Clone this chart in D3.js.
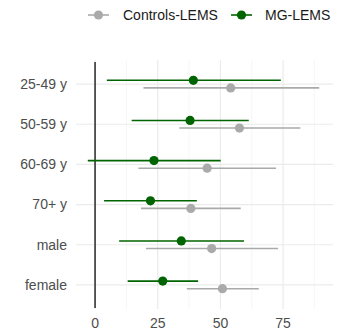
<!DOCTYPE html>
<html><head><meta charset="utf-8">
<script src="https://cdn.jsdelivr.net/npm/d3@7"></script>
<style>body{margin:0;background:#fff}text{font-family:Arial,"Liberation Sans",sans-serif}</style>
</head><body>
<svg id="c" width="337" height="332"></svg>
<script>
const categories = ["25-49 y","50-59 y","60-69 y","70+ y","male","female"];
const mgMid   = [39.2, 37.9, 23.5, 22.1, 34.4, 27.0];
const mgLow   = [4.7, 14.6, -2.9, 3.6, 9.6, 13.0];
const mgHigh  = [74.1, 61.3, 50.1, 40.6, 59.4, 41.1];
const ctMid   = [54.1, 57.6, 44.7, 38.2, 46.5, 50.8];
const ctLow   = [19.3, 33.6, 17.3, 18.3, 20.3, 36.6];
const ctHigh  = [89.4, 81.9, 72.2, 58.1, 73.0, 65.3];
const xTicks = [0, 25, 50, 75];
const minorTicks = [12.5, 37.5, 62.5, 87.5];
const seriesNames = ["Controls-LEMS", "MG-LEMS"];
const colors = {"Controls-LEMS":"#aaaaaa", "MG-LEMS":"#006400"};

(function(){
const svg = d3.select("#c");
const pL = 76, pR = 333, pT = 60, pB = 309;
const x = d3.scaleLinear().domain([-7.6, 94.9]).range([pL, pR]);
const y = d3.scaleBand().domain(categories).range([pT, pB]).paddingOuter(0.1).paddingInner(0);
const yc = c => y(c) + y.bandwidth()/2;

svg.selectAll(".minor").data(minorTicks).join("line")
  .attr("x1", d=>x(d)).attr("x2", d=>x(d)).attr("y1", pT).attr("y2", pB)
  .attr("stroke", "#f2f2f2").attr("stroke-width", 0.7);
svg.selectAll(".major").data(xTicks).join("line")
  .attr("x1", d=>x(d)).attr("x2", d=>x(d)).attr("y1", pT).attr("y2", pB)
  .attr("stroke", "#ebebeb").attr("stroke-width", 1.2);
svg.selectAll(".hg").data(categories).join("line")
  .attr("x1", pL).attr("x2", pR).attr("y1", d=>yc(d)).attr("y2", d=>yc(d))
  .attr("stroke", "#ebebeb").attr("stroke-width", 1.2);

svg.append("line").attr("x1", x(0)).attr("x2", x(0)).attr("y1", pT+2).attr("y2", pB-1)
  .attr("stroke", "#1a1a1a").attr("stroke-width", 1.4);

const series = [
  {name:"MG-LEMS", mid:mgMid, lo:mgLow, hi:mgHigh, off:-3.8},
  {name:"Controls-LEMS", mid:ctMid, lo:ctLow, hi:ctHigh, off:3.8}
];
series.slice().reverse().forEach(s => {
  const g = svg.append("g");
  const rows = categories.map((c,i)=>({c, m:s.mid[i], lo:s.lo[i], hi:s.hi[i]}));
  g.selectAll("line").data(rows).join("line")
    .attr("x1", d=>x(d.lo)).attr("x2", d=>x(d.hi))
    .attr("y1", d=>yc(d.c)+s.off).attr("y2", d=>yc(d.c)+s.off)
    .attr("stroke", colors[s.name]).attr("stroke-width", 1.6);
  g.selectAll("circle").data(rows).join("circle")
    .attr("cx", d=>x(d.m)).attr("cy", d=>yc(d.c)+s.off).attr("r", 4.6)
    .attr("fill", colors[s.name]);
});

svg.selectAll(".yl").data(categories).join("text")
  .attr("x", 67).attr("y", d=>yc(d)).attr("dy", "0.35em").attr("text-anchor", "end")
  .attr("font-size", 14).attr("fill", "#4d4d4d").text(d=>d);
svg.selectAll(".xl").data(xTicks).join("text")
  .attr("x", d=>x(d)).attr("y", 323).attr("dy", "0.35em").attr("text-anchor", "middle")
  .attr("font-size", 14).attr("fill", "#4d4d4d").text(d=>d);

const leg = [{n:"Controls-LEMS", x0:88, tx:123},{n:"MG-LEMS", x0:231, tx:265}];
leg.forEach(l => {
  svg.append("line").attr("x1", l.x0).attr("x2", l.x0+21).attr("y1", 15).attr("y2", 15)
    .attr("stroke", colors[l.n]).attr("stroke-width", 1.6);
  svg.append("circle").attr("cx", l.x0+10.5).attr("cy", 15).attr("r", 4.6).attr("fill", colors[l.n]);
  svg.append("text").attr("x", l.tx).attr("y", 15).attr("dy", "0.35em")
    .attr("font-size", 14).attr("fill", "#1a1a1a").text(l.n);
});
})();
</script>
</body></html>
